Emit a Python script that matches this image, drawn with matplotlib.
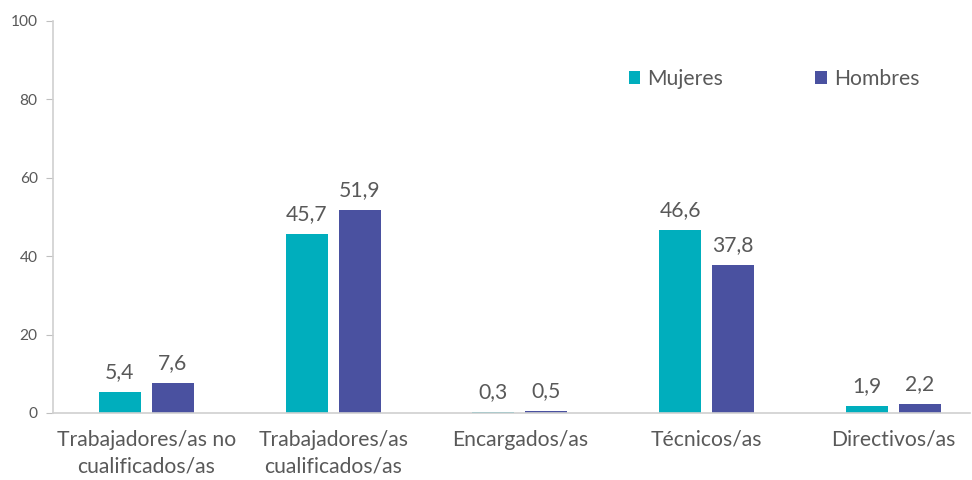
import matplotlib
matplotlib.use("Agg")
import matplotlib.pyplot as plt
import numpy as np

categories = ["Trabajadores/as no\ncualificados/as", "Trabajadores/as\ncualificados/as",
              "Encargados/as", "Técnicos/as", "Directivos/as"]
mujeres = [5.4, 45.7, 0.3, 46.6, 1.9]
hombres = [7.6, 51.9, 0.5, 37.8, 2.2]
series_names = ["Mujeres", "Hombres"]
yticks = [0, 20, 40, 60, 80, 100]

c_m = "#00AEBD"
c_h = "#4A51A0"
txt = "#595959"

plt.rcParams['font.family'] = ['Lato', 'DejaVu Sans']

fig = plt.figure(figsize=(9.72, 4.8), dpi=100)
ax = fig.add_axes([53/972, 67/480, (970-53)/972, (413-21)/480])

x = np.arange(len(categories))
w = 0.225
off = 0.142
b1 = ax.bar(x - off, mujeres, w, color=c_m, label=series_names[0])
b2 = ax.bar(x + off, hombres, w, color=c_h, label=series_names[1])

for bars, vals in ((b1, mujeres), (b2, hombres)):
    for r, v in zip(bars, vals):
        ax.text(r.get_x() + r.get_width()/2, v + 2.5, f"{v:.1f}".replace(".", ","),
                ha="center", va="bottom", fontsize=15.2, color=txt)

ax.set_xlim(-0.5, 4.41)
ax.set_ylim(0, 100)
ax.set_yticks(yticks)
ax.set_xticks(x)
ax.set_xticklabels(categories, fontsize=15.2, color=txt, linespacing=1.4)
ax.tick_params(axis='x', length=0, pad=12)
ax.tick_params(axis='y', length=5, color="#BFBFBF", labelsize=11.2, labelcolor=txt, pad=6)
for s in ("top", "right"):
    ax.spines[s].set_visible(False)
ax.spines['left'].set_color("#D0D0D0")
ax.spines['bottom'].set_color("#D0D0D0")
ax.spines['left'].set_linewidth(1.2)
ax.spines['bottom'].set_linewidth(1.2)

leg = ax.legend(loc="upper left", bbox_to_anchor=(0.607, 0.927), ncol=2, frameon=False,
                fontsize=15.2, handlelength=0.55, handleheight=0.55, handletextpad=0.35,
                columnspacing=4.35, labelcolor=txt)

fig.savefig("out.png", dpi=100)
